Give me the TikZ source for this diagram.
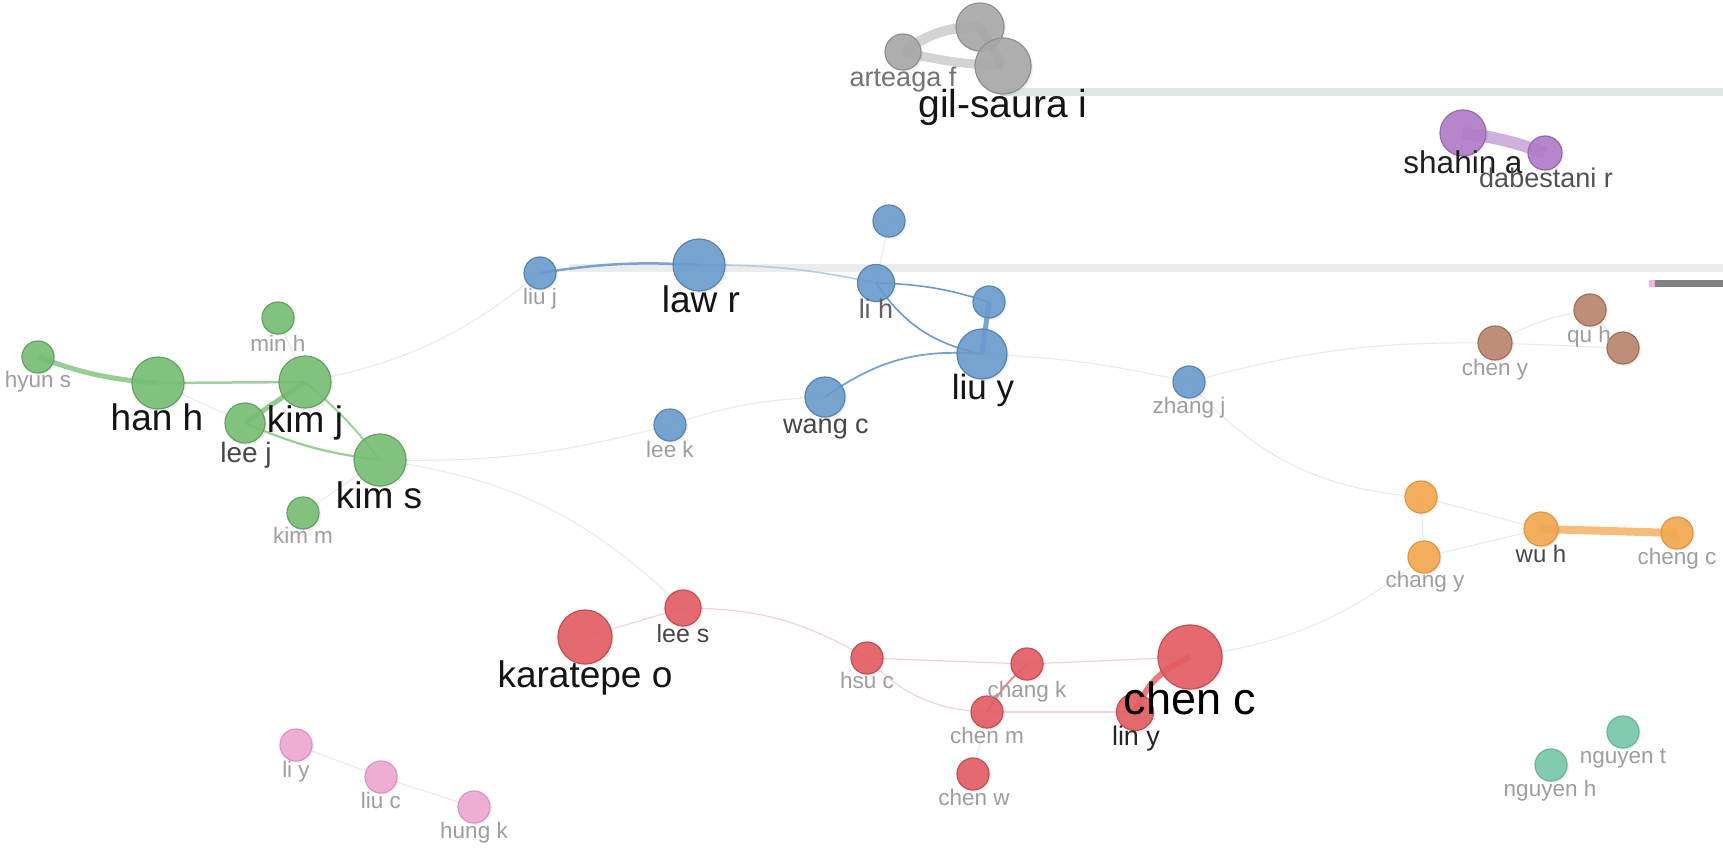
\documentclass[tikz,border=0pt]{standalone}
\usepackage{fontspec}
\setmainfont{Liberation Sans}
\usetikzlibrary{shadows}
\pgfdeclarelayer{bg}
\pgfsetlayers{bg,main}
\definecolor{cgreen}{RGB}{118,190,115}
\definecolor{cblue}{RGB}{105,155,205}
\definecolor{cred}{RGB}{228,92,98}
\definecolor{corange}{RGB}{243,168,78}
\definecolor{cbrown}{RGB}{185,132,108}
\definecolor{cpurple}{RGB}{178,122,200}
\definecolor{cpink}{RGB}{238,168,210}
\definecolor{cteal}{RGB}{118,200,170}
\definecolor{cgray}{RGB}{168,168,168}
\definecolor{faintc}{RGB}{234,234,234}
\definecolor{faintred}{RGB}{240,212,215}
\definecolor{faintpink}{RGB}{246,226,236}
\definecolor{barA}{RGB}{222,230,232}
\definecolor{barB}{RGB}{236,236,236}
\definecolor{barC}{RGB}{128,128,128}
\definecolor{barP}{RGB}{240,180,230}
\newcommand\lblsize[1]{\fontsize{#1}{#1}\selectfont}
\tikzset{
  vn/.style={circle, inner sep=0pt, line width=1.2pt, fill opacity=0.9,
    drop shadow={shadow xshift=2pt, shadow yshift=-2pt, opacity=0.12}},
  gnode/.style={vn, fill=cgreen, draw=cgreen!85!black},
  bnode/.style={vn, fill=cblue, draw=cblue!85!black},
  rnode/.style={vn, fill=cred, draw=cred!85!black},
  onode/.style={vn, fill=corange, draw=corange!90!black},
  brnode/.style={vn, fill=cbrown, draw=cbrown!85!black},
  pnode/.style={vn, fill=cpurple, draw=cpurple!85!black},
  pknode/.style={vn, fill=cpink, draw=cpink!90!black},
  tnode/.style={vn, fill=cteal, draw=cteal!90!black},
  grnode/.style={vn, fill=cgray, draw=cgray!85!black},
  lbl/.style={anchor=base, inner sep=0pt},
  big/.style={lbl, text=black!92, font=\lblsize{37}},
  mid/.style={lbl, text=black!72, font=\lblsize{27}},
  sml/.style={lbl, text=black!38, font=\lblsize{22.5}},
  faint/.style={draw=faintc, line width=1.1pt},
  fred/.style={draw=faintred, line width=1.2pt},
  fpink/.style={draw=faintpink, line width=1.1pt},
}
\begin{document}
\begin{tikzpicture}[x=1pt,y=-1pt]
\useasboundingbox (0,0) rectangle (1723,850);

% ---------- nodes ----------
% gray
\node[grnode, minimum size=36pt] (arteaga) at (903,52) {};
\node[grnode, minimum size=48pt] (gtop) at (980,27) {};
\node[grnode, minimum size=56pt] (gilsaura) at (1003,66) {};
% purple
\node[pnode, minimum size=46pt] (shahin) at (1463,133) {};
\node[pnode, minimum size=34pt] (dabestani) at (1545,153) {};
% blue
\node[bnode, minimum size=32pt] (btop) at (889,221) {};
\node[bnode, minimum size=32pt] (liuj) at (540,273) {};
\node[bnode, minimum size=52pt] (lawr) at (699,265) {};
\node[bnode, minimum size=37pt] (lih) at (876,283) {};
\node[bnode, minimum size=32pt] (bright) at (989,302) {};
\node[bnode, minimum size=50pt] (liuy) at (982,354) {};
\node[bnode, minimum size=40pt] (wangc) at (825,397) {};
\node[bnode, minimum size=32pt] (leek) at (670,425) {};
\node[bnode, minimum size=32pt] (zhangj) at (1189,382) {};
% green
\node[gnode, minimum size=32pt] (hyuns) at (38,357) {};
\node[gnode, minimum size=32pt] (minh) at (278,318) {};
\node[gnode, minimum size=52pt] (hanh) at (158,383) {};
\node[gnode, minimum size=52pt] (kimj) at (305,382) {};
\node[gnode, minimum size=40pt] (leej) at (245,423) {};
\node[gnode, minimum size=52pt] (kims) at (380,460) {};
\node[gnode, minimum size=32pt] (kimm) at (303,513) {};
% brown
\node[brnode, minimum size=34pt] (cheny) at (1495,343) {};
\node[brnode, minimum size=32pt] (quh) at (1590,310) {};
\node[brnode, minimum size=32pt] (brright) at (1623,348) {};
% orange
\node[onode, minimum size=32pt] (otop) at (1421,497) {};
\node[onode, minimum size=32pt] (changy) at (1424,557) {};
\node[onode, minimum size=34pt] (wuh) at (1541,529) {};
\node[onode, minimum size=32pt] (chengc) at (1677,533) {};
% red
\node[rnode, minimum size=54pt] (karatepe) at (585,637) {};
\node[rnode, minimum size=36pt] (lees) at (683,608) {};
\node[rnode, minimum size=32pt] (hsuc) at (867,658) {};
\node[rnode, minimum size=32pt] (changk) at (1027,664) {};
\node[rnode, minimum size=32pt] (chenm) at (987,712) {};
\node[rnode, minimum size=37pt] (liny) at (1135,712) {};
\node[rnode, minimum size=64pt] (chenc) at (1190,657) {};
\node[rnode, minimum size=32pt] (chenw) at (973,774) {};
% pink
\node[pknode, minimum size=32pt] (liy) at (296,745) {};
\node[pknode, minimum size=32pt] (liuc) at (381,777) {};
\node[pknode, minimum size=32pt] (hungk) at (474,807) {};
% teal
\node[tnode, minimum size=32pt] (nguyent) at (1623,732) {};
\node[tnode, minimum size=32pt] (nguyenh) at (1551,765) {};

% ---------- edges and bars (behind nodes) ----------
\begin{pgfonlayer}{bg}
\fill[white] (0,0) rectangle (1723,850);
% bars
\fill[barA] (1000,88) rectangle (1723,96);
\fill[barB] (569,264) rectangle (1723,272);
\fill[barP] (1649,280) rectangle (1655,287);
\fill[barC] (1655,280) rectangle (1723,287);
% gray cluster
\draw[draw=cgray, draw opacity=0.5, line width=10pt] (arteaga.center) to[bend left=18] (gtop.center);
\draw[draw=cgray, draw opacity=0.5, line width=9pt] (arteaga.center) to[bend right=5] (gilsaura.center);
\draw[draw=cgray, draw opacity=0.6, line width=9pt] (gtop.center) -- (gilsaura.center);
% purple
\draw[draw=cpurple, draw opacity=0.6, line width=12pt] (shahin.center) to[bend left=6] (dabestani.center);
% green
\draw[draw=cgreen, draw opacity=0.75, line width=5pt] (hyuns.center) to[bend right=8] (hanh.center);
\draw[draw=cgreen, draw opacity=0.7, line width=2.5pt] (hanh.center) -- (kimj.center);
\draw[draw=cgreen, draw opacity=0.8, line width=5pt] (kimj.center) -- (leej.center);
\draw[draw=cgreen, draw opacity=0.75, line width=2.2pt] (leej.center) to[bend right=8] (kims.center);
\draw[draw=cgreen, draw opacity=0.7, line width=2pt] (kimj.center) to[bend left=6] (kims.center);
\draw[faint] (hanh.center) -- (leej.center);
\draw[faint] (minh.center) -- (kimj.center);
\draw[faint] (kimm.center) -- (kims.center);
\draw[faint] (kimj.center) to[bend right=14] (liuj.center);
\draw[faint] (kims.center) to[bend right=8] (leek.center);
\draw[faint] (kims.center) to[bend left=18] (lees.center);
% blue
\draw[faint] (leek.center) to[bend left=8] (wangc.center);
\draw[draw=cblue, draw opacity=0.9, line width=1.8pt] (wangc.center) to[bend left=20] (liuy.center);
\draw[draw=cblue, draw opacity=0.9, line width=2.5pt] (liuj.center) to[bend left=6] (lawr.center);
\draw[draw=cblue!50!white, line width=1.6pt] (lawr.center) to[bend left=6] (lih.center);
\draw[faint] (lih.center) -- (btop.center);
\draw[draw=cblue, line width=1.6pt] (lih.center) to[bend left=8] (bright.center);
\draw[draw=cblue, line width=1.6pt] (lih.center) to[bend right=22] (liuy.center);
\draw[draw=cblue, draw opacity=0.9, line width=5pt] (bright.center) -- (liuy.center);
\draw[faint] (liuy.center) to[bend left=5] (zhangj.center);
\draw[faint] (zhangj.center) to[bend left=8] (cheny.center);
% brown
\draw[faint] (cheny.center) to[bend left=10] (quh.center);
\draw[faint] (cheny.center) -- (brright.center);
\draw[faint] (quh.center) -- (brright.center);
% orange
\draw[faint] (zhangj.center) to[bend right=22] (otop.center);
\draw[faint] (otop.center) -- (wuh.center);
\draw[faint] (otop.center) -- (changy.center);
\draw[faint] (changy.center) -- (wuh.center);
\draw[draw=corange, draw opacity=0.75, line width=8pt] (wuh.center) -- (chengc.center);
\draw[faint] (changy.center) to[bend left=15] (chenc.center);
% red
\draw[fred] (karatepe.center) -- (lees.center);
\draw[fred] (lees.center) to[bend left=15] (hsuc.center);
\draw[fred] (hsuc.center) -- (changk.center);
\draw[fred] (hsuc.center) to[bend right=22] (chenm.center);
\draw[fred] (changk.center) -- (chenc.center);
\draw[fred] (chenm.center) -- (liny.center);
\draw[draw=cred, draw opacity=0.7, line width=2pt] (chenm.center) to[bend left=8] (changk.center);
\draw[faint] (chenm.center) -- (chenw.center);
\draw[draw=cred, draw opacity=0.8, line width=6pt] (liny.center) to[bend left=22] (chenc.center);
% pink
\draw[fpink] (liy.center) -- (liuc.center);
\draw[fpink] (liuc.center) -- (hungk.center);
\end{pgfonlayer}

% ---------- labels ----------
\node[mid, text=black!55] (Larteaga) at (903,87) {arteaga f};
\node[big, font=\lblsize{39}] (Lgilsaura) at (1003,118) {gil-saura i};
\node[lbl, text=black!88, font=\lblsize{31.5}] (Lshahin) at (1463,174) {shahin a};
\node[mid, text=black!68] (Ldabestani) at (1546,188) {dabestani r};
\node[sml] (Lliuj) at (540,304) {liu j};
\node[big] (Llawr) at (701,312) {law r};
\node[mid, text=black!62] (Llih) at (876,318) {li h};
\node[big, font=\lblsize{35}] (Lliuy) at (983,399) {liu y};
\node[mid] (Lwangc) at (826,433) {wang c};
\node[sml] (Lleek) at (670,457) {lee k};
\node[sml] (Lzhangj) at (1189,413) {zhang j};
\node[sml] (Lhyuns) at (38,387) {hyun s};
\node[sml] (Lminh) at (278,351) {min h};
\node[big] (Lhanh) at (157,430) {han h};
\node[big] (Lkimj) at (305,432) {kim j};
\node[mid, font=\lblsize{28}] (Lleej) at (246,462) {lee j};
\node[big] (Lkims) at (379,508) {kim s};
\node[sml] (Lkimm) at (303,543) {kim m};
\node[sml] (Lcheny) at (1495,375) {chen y};
\node[sml] (Lquh) at (1589,342) {qu h};
\node[sml] (Lchangy) at (1425,587) {chang y};
\node[mid, font=\lblsize{24}] (Lwuh) at (1541,562) {wu h};
\node[sml] (Lchengc) at (1677,564) {cheng c};
\node[mid, font=\lblsize{25}] (Llees) at (683,642) {lee s};
\node[big] (Lkaratepe) at (585,687) {karatepe o};
\node[sml] (Lhsuc) at (867,688) {hsu c};
\node[sml] (Lchangk) at (1027,697) {chang k};
\node[sml] (Lchenm) at (987,743) {chen m};
\node[mid, text=black!85] (Lliny) at (1136,745) {lin y};
\node[big, text=black, font=\lblsize{45}] (Lchenc) at (1190,714) {chen c};
\node[sml] (Lchenw) at (974,805) {chen w};
\node[sml] (Lliy) at (296,777) {li y};
\node[sml] (Lliuc) at (381,808) {liu c};
\node[sml] (Lhungk) at (474,838) {hung k};
\node[sml] (Lnguyent) at (1623,763) {nguyen t};
\node[sml] (Lnguyenh) at (1550,796) {nguyen h};
\end{tikzpicture}
\end{document}
